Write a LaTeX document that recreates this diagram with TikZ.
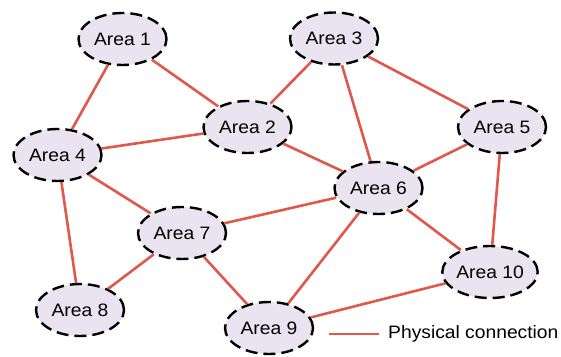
\documentclass[tikz,border=0pt]{standalone}
\usepackage{fontspec}
\setmainfont[FakeStretch=1.07]{Liberation Sans}
\usetikzlibrary{shapes.geometric}
\definecolor{linkred}{HTML}{E0574C}
\definecolor{areafill}{HTML}{E9E4EF}
\begin{document}
\begin{tikzpicture}[x=1pt,y=-1pt,
  area/.style={ellipse,draw=black,fill=areafill,line width=2.4pt,dash pattern=on 12pt off 6pt,minimum width=88pt,minimum height=52pt,inner sep=0pt,font=\fontsize{18}{21}\selectfont},
  link/.style={draw=linkred,line width=2.6pt}]
\useasboundingbox (0,0) rectangle (561,356);
\node[area] (a1) at (122.5,39) {Area 1};
\node[area] (a3) at (334,38.5) {Area 3};
\node[area] (a2) at (247.5,127) {Area 2};
\node[area] (a5) at (502,127) {Area 5};
\node[area] (a4) at (57.5,155) {Area 4};
\node[area] (a6) at (378.5,188) {Area 6};
\node[area] (a7) at (182,233) {Area 7};
\node[area] (a10) at (490,272) {Area 10};
\node[area] (a8) at (80,310) {Area 8};
\node[area] (a9) at (269,328) {Area 9};
\foreach \u/\v in {a1/a4,a1/a2,a3/a2,a3/a6,a3/a5,a4/a2,a4/a7,a4/a8,a2/a6,a5/a6,a5/a10,a6/a7,a6/a9,a6/a10,a7/a8,a7/a9,a9/a10}
  \draw[link] (\u) -- (\v);
\coordinate (l1) at (329,334);
\coordinate (l2) at (379,334);
\draw[link] (l1) -- (l2);
\node[anchor=west,inner sep=0pt,font=\fontsize{18}{21}\selectfont] (leg) at (388,334) {Physical connection};
\end{tikzpicture}
\end{document}
